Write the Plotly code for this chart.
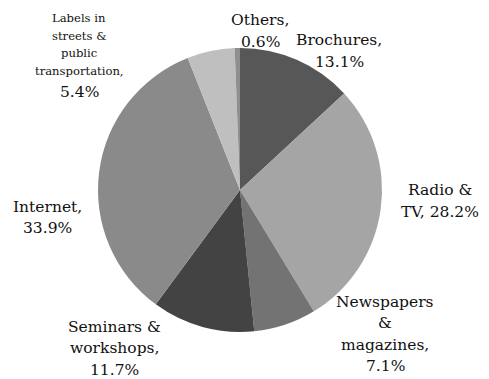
import plotly.graph_objects as go

# Advertising channels and their shares (%)
categories = ["Brochures", "Radio & TV", "Newspapers & magazines", "Seminars & workshops",
              "Internet", "Labels in streets & public transportation", "Others"]
shares = [13.1, 28.2, 7.1, 11.7, 33.9, 5.4, 0.6]
colors = ["#575757", "#a5a5a5", "#737373", "#434343", "#8a8a8a", "#bfbfbf", "#8f8f8f"]

# Label text split over lines (category lines, last line is the share)
label_lines = [
    ["Brochures,"],
    ["Radio &", "TV, {v}%"],
    ["Newspapers", "&", "magazines,"],
    ["Seminars &", "workshops,"],
    ["Internet,"],
    ["Labels in", "streets &", "public", "transportation,"],
    ["Others,"],
]

W, H = 489, 379
FONT = "DejaVu Serif"

# Label placement: centre x, first baseline, line step, category font size, value font size
label_pos = [
    (339, 45, 22, 15.5, 15.5),
    (440, 195, 22, 15.5, 15.5),
    (385, 307, 21.5, 15.5, 15.5),
    (114, 332, 21.5, 15.5, 15.5),
    (47, 212, 21, 15.5, 15.5),
    (79, 22, 17.7, 11.6, 15.5),
    (260, 25, 22, 15.5, 15.5),
]

fig = go.Figure(go.Pie(
    labels=categories,
    values=shares,
    sort=False,
    direction="clockwise",
    rotation=0,
    marker=dict(colors=colors, line=dict(width=0)),
    textinfo="none",
    hoverinfo="label+percent",
    showlegend=False,
    domain=dict(x=[98 / W, 382 / W], y=[1 - 332 / H, 1 - 48 / H]),
))

annotations = []
for lines, val, (cx, base, step, fs_cat, fs_val) in zip(label_lines, shares, label_pos):
    texts = [ln.format(v=val) for ln in lines]
    if "{v}" not in "".join(lines):
        texts.append(f"{val}%")
        sizes = [fs_cat] * (len(texts) - 1) + [fs_val]
    else:
        sizes = [fs_cat] * len(texts)
    y = base
    for i, (t, fs) in enumerate(zip(texts, sizes)):
        if i > 0:
            y += step if fs == fs_cat else step + 4.5
        mid = y - 0.35 * fs
        annotations.append(dict(
            x=cx / W, y=1 - mid / H, xref="paper", yref="paper",
            text=t, showarrow=False, xanchor="center", yanchor="middle",
            font=dict(family=FONT, size=fs, color="#111111"),
        ))

fig.update_layout(
    width=W, height=H,
    margin=dict(l=0, r=0, t=0, b=0),
    paper_bgcolor="white",
    plot_bgcolor="white",
    font=dict(family=FONT),
    annotations=annotations,
)

fig.write_html("out.html")
